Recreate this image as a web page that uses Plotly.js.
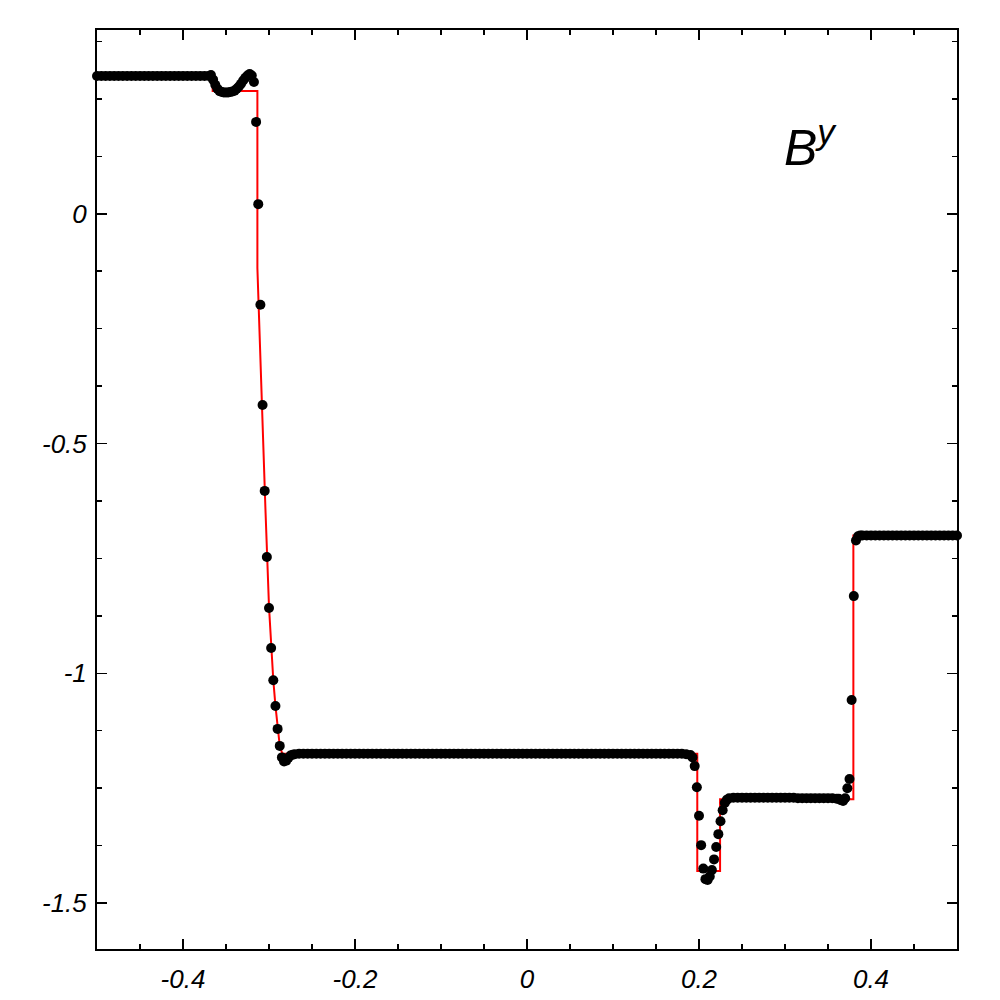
<!DOCTYPE html>
<html>
<head>
<meta charset="utf-8">
<script src="https://cdn.plot.ly/plotly-3.0.1.min.js"></script>
<style>
  html, body { margin: 0; padding: 0; background: #fff; }
  #plot { width: 1000px; height: 1000px; }
</style>
</head>
<body>
<div id="plot"></div>
<script>
// numerical solution (black dots)
var leftX = [-0.5,-0.495,-0.49,-0.485,-0.48,-0.475,-0.47,-0.465,-0.46,-0.455,-0.45,-0.445,-0.44,-0.435,-0.43,-0.425,-0.42,-0.415,-0.41,-0.405,-0.4,-0.395,-0.39,-0.385,-0.38,-0.375,-0.37];
var leftY = [0.3,0.3,0.3,0.3,0.3,0.3,0.3,0.3,0.3,0.3,0.3,0.3,0.3,0.3,0.3,0.3,0.3,0.3,0.3,0.3,0.3,0.3,0.3,0.3,0.3,0.3,0.3];

var fanX = [-0.3675,-0.365,-0.3625,-0.36,-0.3575,-0.355,-0.3525,-0.35,-0.3475,-0.345,-0.3425,-0.34,-0.3375,-0.335,-0.3325,-0.33,-0.3275,-0.325,-0.3225,-0.32,-0.3175,-0.315,-0.3125,-0.31,-0.3075,-0.305,-0.3025,-0.3,-0.2975,-0.295,-0.2925,-0.29,-0.2875,-0.285,-0.2825,-0.28,-0.2775,-0.275,-0.2725,-0.27];
var fanY = [0.302,0.292,0.281,0.272,0.267,0.265,0.264,0.264,0.264,0.265,0.266,0.268,0.272,0.277,0.283,0.290,0.296,0.301,0.304,0.301,0.287,0.20,0.021,-0.198,-0.416,-0.603,-0.747,-0.858,-0.945,-1.015,-1.071,-1.121,-1.158,-1.183,-1.192,-1.190,-1.184,-1.179,-1.177,-1.176];

var midX = [-0.265,-0.26,-0.255,-0.25,-0.245,-0.24,-0.235,-0.23,-0.225,-0.22,-0.215,-0.21,-0.205,-0.2,-0.195,-0.19,-0.185,-0.18,-0.175,-0.17,-0.165,-0.16,-0.155,-0.15,-0.145,-0.14,-0.135,-0.13,-0.125,-0.12,-0.115,-0.11,-0.105,-0.1,-0.095,-0.09,-0.085,-0.08,-0.075,-0.07,-0.065,-0.06,-0.055,-0.05,-0.045,-0.04,-0.035,-0.03,-0.025,-0.02,-0.015,-0.01,-0.005,0,0.005,0.01,0.015,0.02,0.025,0.03,0.035,0.04,0.045,0.05,0.055,0.06,0.065,0.07,0.075,0.08,0.085,0.09,0.095,0.1,0.105,0.11,0.115,0.12,0.125,0.13,0.135,0.14,0.145,0.15,0.155,0.16,0.165,0.17,0.175,0.18,0.185,0.19];
var midY = [-1.175,-1.175,-1.175,-1.175,-1.175,-1.175,-1.175,-1.175,-1.175,-1.175,-1.175,-1.175,-1.175,-1.175,-1.175,-1.175,-1.175,-1.175,-1.175,-1.175,-1.175,-1.175,-1.175,-1.175,-1.175,-1.175,-1.175,-1.175,-1.175,-1.175,-1.175,-1.175,-1.175,-1.175,-1.175,-1.175,-1.175,-1.175,-1.175,-1.175,-1.175,-1.175,-1.175,-1.175,-1.175,-1.175,-1.175,-1.175,-1.175,-1.175,-1.175,-1.175,-1.175,-1.175,-1.175,-1.175,-1.175,-1.175,-1.175,-1.175,-1.175,-1.175,-1.175,-1.175,-1.175,-1.175,-1.175,-1.175,-1.175,-1.175,-1.175,-1.175,-1.175,-1.175,-1.175,-1.175,-1.175,-1.175,-1.175,-1.175,-1.175,-1.175,-1.175,-1.175,-1.175,-1.175,-1.175,-1.175,-1.175,-1.175,-1.176,-1.178];

var dipX = [0.1925,0.195,0.1975,0.2,0.2025,0.205,0.2075,0.21,0.2125,0.215,0.2175,0.22,0.2225,0.225,0.2275,0.23,0.2325,0.235];
var dipY = [-1.183,-1.202,-1.248,-1.31,-1.374,-1.425,-1.448,-1.45,-1.442,-1.428,-1.405,-1.378,-1.35,-1.322,-1.298,-1.282,-1.275,-1.272];

var shelfX = [0.24,0.245,0.25,0.255,0.26,0.265,0.27,0.275,0.28,0.285,0.29,0.295,0.3,0.305,0.31,0.315,0.32,0.325,0.33,0.335,0.34,0.345,0.35,0.355,0.36];
var shelfY = [-1.271,-1.271,-1.271,-1.271,-1.271,-1.271,-1.271,-1.271,-1.271,-1.271,-1.271,-1.271,-1.271,-1.271,-1.271,-1.272,-1.272,-1.272,-1.272,-1.272,-1.272,-1.272,-1.272,-1.272,-1.273];

var shockX = [0.3625,0.365,0.3675,0.37,0.3725,0.375,0.3775,0.38,0.3825,0.385,0.3875];
var shockY = [-1.273,-1.276,-1.278,-1.272,-1.25,-1.23,-1.058,-0.832,-0.711,-0.702,-0.700];

var rightX = [0.39,0.395,0.4,0.405,0.41,0.415,0.42,0.425,0.43,0.435,0.44,0.445,0.45,0.455,0.46,0.465,0.47,0.475,0.48,0.485,0.49,0.495,0.5];
var rightY = [-0.7,-0.7,-0.7,-0.7,-0.7,-0.7,-0.7,-0.7,-0.7,-0.7,-0.7,-0.7,-0.7,-0.7,-0.7,-0.7,-0.7,-0.7,-0.7,-0.7,-0.7,-0.7,-0.7];

// exact solution (red line)
var exactX = [-0.5,-0.3655,-0.3655,-0.3135,-0.3135,-0.3105,-0.3075,-0.304,-0.3,-0.2975,-0.295,-0.2925,-0.29,-0.2875,-0.2845,0.198,0.198,0.2245,0.2245,0.3795,0.3795,0.5];
var exactY = [0.3,0.3,0.267,0.267,-0.118,-0.3,-0.45,-0.65,-0.855,-0.945,-1.015,-1.071,-1.121,-1.158,-1.175,-1.175,-1.43,-1.43,-1.274,-1.274,-0.7,-0.7];

var xTickVals = [-0.4, -0.2, 0, 0.2, 0.4];
var xTickText = ['-0.4', '-0.2', '0', '0.2', '0.4'];
var yTickVals = [0, -0.5, -1, -1.5];
var yTickText = ['0', '-0.5', '-1', '-1.5'];

var dotsX = leftX.concat(fanX, midX, dipX, shelfX, shockX, rightX);
var dotsY = leftY.concat(fanY, midY, dipY, shelfY, shockY, rightY);

var exact = {
	x: exactX,
	y: exactY,
	type: 'scatter',
	mode: 'lines',
	line: {color: '#ff0000', width: 2},
	cliponaxis: false,
	hoverinfo: 'skip'
};

var dots = {
	x: dotsX,
	y: dotsY,
	type: 'scatter',
	mode: 'markers',
	marker: {color: '#000000', size: 10, line: {width: 0}},
	cliponaxis: false
};

var tickFont = {family: 'Liberation Sans, Arial, sans-serif', size: 26, color: '#000', style: 'italic'};

var layout = {
	width: 1000,
	height: 1000,
	margin: {l: 97, r: 43, t: 30, b: 51},
	paper_bgcolor: '#fff',
	plot_bgcolor: '#fff',
	showlegend: false,
	xaxis: {
		range: [-0.5, 0.5],
		tickvals: xTickVals,
		ticktext: xTickText,
		ticks: 'inside',
		ticklen: 10,
		tickwidth: 1.5,
		tickcolor: '#000',
		minor: {dtick: 0.05, tick0: 0, ticks: 'inside', ticklen: 5, tickwidth: 1.5, tickcolor: '#000'},
		showline: true,
		linewidth: 2,
		linecolor: '#000',
		mirror: 'allticks',
		showgrid: false,
		zeroline: false,
		tickfont: tickFont,
		ticklabelstandoff: 6
	},
	yaxis: {
		range: [-1.6, 0.4],
		tickvals: yTickVals,
		ticktext: yTickText,
		ticks: 'inside',
		ticklen: 10,
		tickwidth: 1.5,
		tickcolor: '#000',
		minor: {dtick: 0.125, tick0: 0, ticks: 'inside', ticklen: 5, tickwidth: 1.5, tickcolor: '#000'},
		showline: true,
		linewidth: 2,
		linecolor: '#000',
		mirror: 'allticks',
		showgrid: false,
		zeroline: false,
		tickfont: tickFont,
		ticklabelstandoff: 3
	},
	annotations: [{
		text: '<i>B<sup>y</sup></i>',
		xref: 'paper',
		yref: 'paper',
		x: 0.797,
		y: 0.876,
		xanchor: 'left',
		yanchor: 'middle',
		showarrow: false,
		font: {family: 'Liberation Sans, Arial, sans-serif', size: 50, color: '#000'}
	}]
};

Plotly.newPlot('plot', [exact, dots], layout, {displayModeBar: false, staticPlot: true});
</script>
</body>
</html>
